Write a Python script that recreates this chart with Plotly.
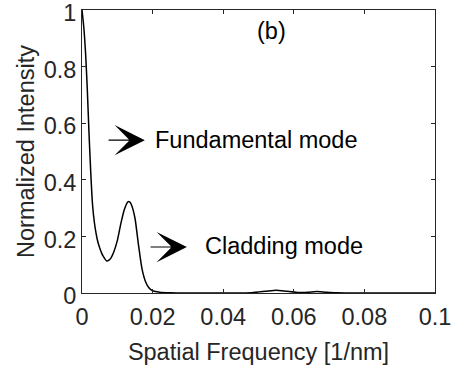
import plotly.graph_objects as go

freq = [0.0, 0.0005, 0.001, 0.0015, 0.002, 0.0025, 0.003, 0.0035, 0.004, 0.0045,
        0.005, 0.0056, 0.006, 0.007, 0.008, 0.009, 0.010, 0.011, 0.012, 0.013,
        0.0135, 0.014, 0.015, 0.016, 0.017, 0.018, 0.019, 0.020, 0.022, 0.025,
        0.030, 0.040, 0.048, 0.052, 0.055, 0.058, 0.061, 0.064, 0.0665, 0.069,
        0.072, 0.080, 0.090, 0.100]
intensity = [1.0, 0.94, 0.85, 0.72, 0.56, 0.42, 0.31, 0.25, 0.21, 0.18,
             0.16, 0.14, 0.13, 0.113, 0.12, 0.145, 0.185, 0.245, 0.295, 0.322,
             0.322, 0.312, 0.265, 0.17, 0.085, 0.04, 0.018, 0.008, 0.003, 0.001,
             0.0, 0.0, 0.001, 0.006, 0.01, 0.006, 0.002, 0.003, 0.005, 0.003,
             0.001, 0.0, 0.0, 0.0]

x_ticks = [0, 0.02, 0.04, 0.06, 0.08, 0.1]
y_ticks = [0, 0.2, 0.4, 0.6, 0.8, 1]

FONT = "Liberation Sans, Arial, Helvetica, sans-serif"
FS = 23.5

fig = go.Figure()
fig.add_trace(go.Scatter(x=freq, y=intensity, mode="lines",
                         line=dict(color="black", width=1.5, shape="spline", smoothing=0.6),
                         showlegend=False, hoverinfo="skip"))

axis_common = dict(showline=True, linecolor="#262626", linewidth=1, mirror="ticks",
                   ticks="inside", ticklen=4, tickcolor="#262626", showgrid=False,
                   zeroline=False, ticklabeloverflow="allow", automargin=False,
                   tickfont=dict(size=FS, color="#262626", family=FONT))

fig.update_xaxes(range=[0, 0.1], tickvals=x_ticks, ticktext=[str(v) for v in x_ticks],
                 ticklabelstandoff=3,
                 title=dict(text="Spatial Frequency [1/nm]", standoff=14,
                            font=dict(size=FS, color="#262626", family=FONT)),
                 **axis_common)
fig.update_yaxes(range=[0, 1], tickvals=y_ticks, ticktext=[str(v) for v in y_ticks],
                 ticklabelshift=3,
                 title=dict(text="Normalized Intensity", standoff=2,
                            font=dict(size=FS, color="#262626", family=FONT)),
                 **axis_common)

# arrows
fig.add_annotation(x=0.0178, y=0.54, ax=0.0071, ay=0.54, xref="x", yref="y",
                   axref="x", ayref="y", text="", showarrow=True, arrowhead=3,
                   arrowsize=4.2, arrowwidth=1.2, arrowcolor="black")
fig.add_annotation(x=0.0297, y=0.1625, ax=0.019, ay=0.1625, xref="x", yref="y",
                   axref="x", ayref="y", text="", showarrow=True, arrowhead=3,
                   arrowsize=4.2, arrowwidth=1.2, arrowcolor="black")

# labels
fig.add_annotation(x=0.0200, y=0.54, xref="x", yref="y", text="Fundamental mode",
                   showarrow=False, xanchor="left", yanchor="middle",
                   font=dict(size=FS, color="black", family=FONT))
fig.add_annotation(x=0.0342, y=0.166, xref="x", yref="y", text="Cladding mode",
                   showarrow=False, xanchor="left", yanchor="middle",
                   font=dict(size=FS, color="black", family=FONT))
fig.add_annotation(x=0.0538, y=0.926, xref="x", yref="y", text="(b)",
                   showarrow=False, xanchor="center", yanchor="middle",
                   font=dict(size=FS, color="black", family=FONT))

fig.update_layout(width=451, height=366, margin=dict(l=82, r=16, t=10, b=73),
                  paper_bgcolor="white", plot_bgcolor="white",
                  font=dict(family=FONT, color="#262626"))

fig.write_html("out.html")
